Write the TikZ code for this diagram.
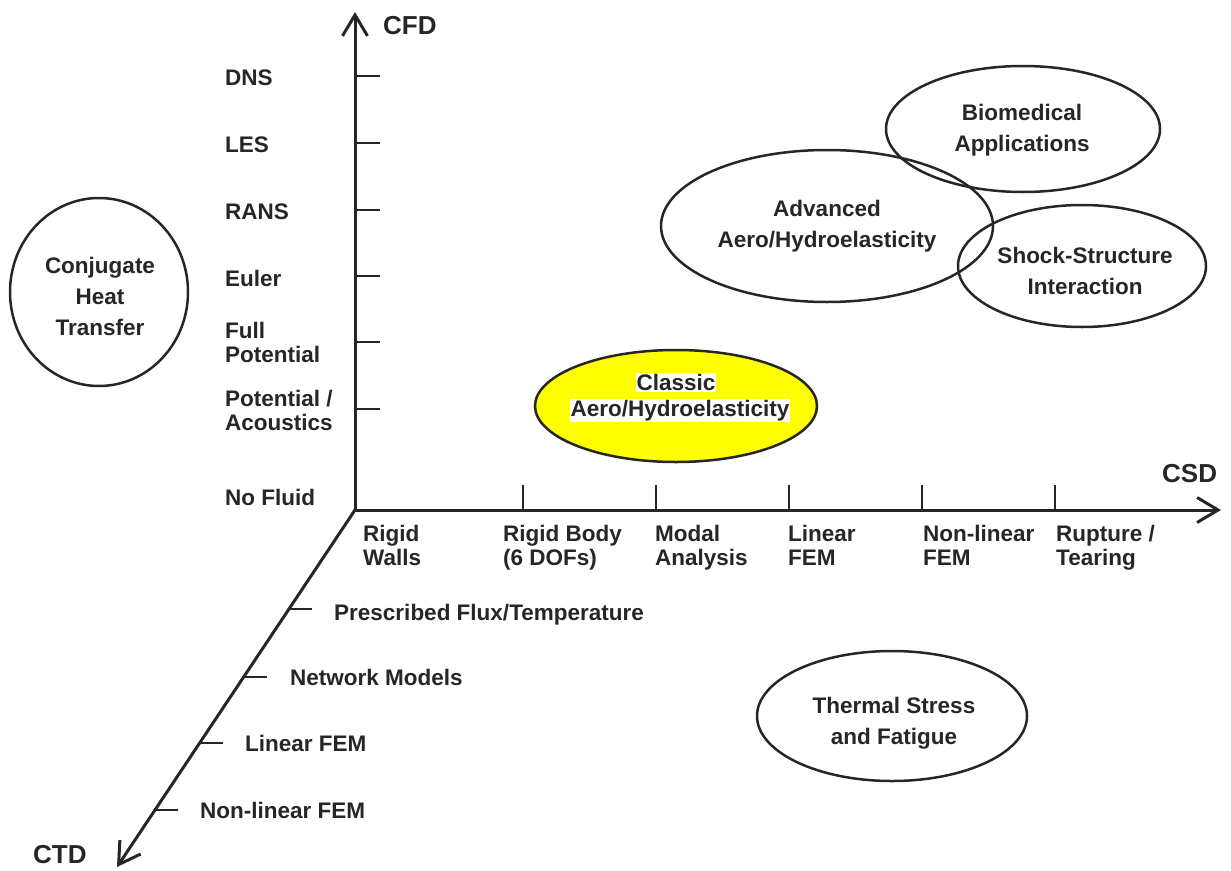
\documentclass[tikz,border=0pt]{standalone}
\usepackage{fontspec}
\setmainfont{Liberation Sans}
\usetikzlibrary{arrows.meta,shapes.geometric,calc}
\definecolor{ink}{HTML}{262626}
\definecolor{hilite}{HTML}{FFFF00}
\begin{document}
\begin{tikzpicture}[x=1pt,y=-1pt,
  axis/.style={line width=3pt, draw=ink, -{Straight Barb[length=21pt,width=25pt,line width=3pt]}},
  tickmark/.style={line width=2.6pt, draw=ink},
  lbl/.style={font=\bfseries\fontsize{22.5}{24}\selectfont, text=ink, inner sep=0pt, anchor=north west, align=left},
  ttl/.style={font=\bfseries\fontsize{26}{28}\selectfont, text=ink, inner sep=0pt, anchor=north west},
  elab/.style={font=\bfseries\fontsize{22.5}{31}\selectfont, text=ink, inner sep=0pt, anchor=north, align=center},
  oval/.style={ellipse, draw=ink, line width=2.5pt, inner sep=0pt},
]
\useasboundingbox (0,0) rectangle (1231,870);

% axes
\coordinate (O) at (355,510);
\coordinate (ytip) at (355,12);
\coordinate (xtip) at (1221,510);
\coordinate (ztip) at (117,867);
\draw[axis] (O) -- (ytip);
\draw[axis] (O) -- (xtip);
\draw[axis] (O) -- (ztip);

% vertical ticks
\foreach \n/\y in {dns/76, les/143, rans/210, euler/276, fullpot/342, potac/409}{
  \coordinate (v\n) at (355,\y);
  \draw[tickmark] (v\n) -- ++(25,0);
}
% horizontal ticks
\foreach \n/\x in {rb/523, modal/656, lin/789, nonlin/922, rupt/1055}{
  \coordinate (h\n) at (\x,510);
  \draw[tickmark] (h\n) -- ++(0,-25);
}
% diagonal ticks
\foreach \n/\t in {presc/0.2773, netw/0.4678, tlin/0.6527, tnonlin/0.8403}{
  \coordinate (d\n) at ($(O)!\t!(ztip)$);
  \draw[tickmark] (d\n) -- ++(23,0);
}

% axis titles
\node[ttl] (cfd) at (383,16) {CFD};
\node[ttl] (csd) at (1162,464) {CSD};
\node[ttl] (ctd) at (33,845) {CTD};

% CFD labels
\node[lbl] (ldns) at (225,70) {DNS};
\node[lbl] (lles) at (225,137) {LES};
\node[lbl] (lrans) at (225,204) {RANS};
\node[lbl] (leuler) at (225,270) {Euler};
\node[lbl] (lfull) at (225,322) {Full\\Potential};
\node[lbl] (lpot) at (225,390) {Potential /\\Acoustics};
\node[lbl] (lnof) at (225,489) {No Fluid};

% CSD labels
\node[lbl] (lrw) at (363,525) {Rigid\\Walls};
\node[lbl] (lrb) at (503,525) {Rigid Body\\(6 DOFs)};
\node[lbl] (lmod) at (655,525) {Modal\\Analysis};
\node[lbl] (llin) at (788,525) {Linear\\FEM};
\node[lbl] (lnl) at (923,525) {Non-linear\\FEM};
\node[lbl] (lrup) at (1056,525) {Rupture /\\Tearing};

% CTD labels
\node[lbl] (lpresc) at (334,604) {Prescribed Flux/Temperature};
\node[lbl] (lnet) at (290,669) {Network Models};
\node[lbl] (ltlin) at (245,735) {Linear FEM};
\node[lbl] (ltnl) at (200,802) {Non-linear FEM};

% ellipses
\node[oval, minimum width=178pt, minimum height=188pt] (conj) at (99,292) {};
\node[elab] (tconj) at (100,257) {Conjugate\\Heat\\Transfer};

\node[oval, fill=hilite, minimum width=282pt, minimum height=112pt] (classic) at (676,406) {};
\node[elab, fill=white, inner sep=1pt] (tclassic1) at (676,373) {Classic};
\node[elab, fill=white, inner sep=1pt] (tclassic2) at (680,399) {Aero/Hydroelasticity};

\node[oval, minimum width=332pt, minimum height=152pt] (adv) at (827,226) {};
\node[elab] (tadv) at (827,200) {Advanced\\Aero/Hydroelasticity};

\node[oval, minimum width=274pt, minimum height=126pt] (bio) at (1023,129) {};
\node[elab] (tbio) at (1022,104) {Biomedical\\Applications};

\node[oval, minimum width=248pt, minimum height=122pt] (shock) at (1082,266) {};
\node[elab] (tshock) at (1085,247) {Shock-Structure\\Interaction};

\node[oval, minimum width=270pt, minimum height=130pt] (therm) at (892,716) {};
\node[elab] (ttherm) at (894,697) {Thermal Stress\\and Fatigue};
\end{tikzpicture}
\end{document}
